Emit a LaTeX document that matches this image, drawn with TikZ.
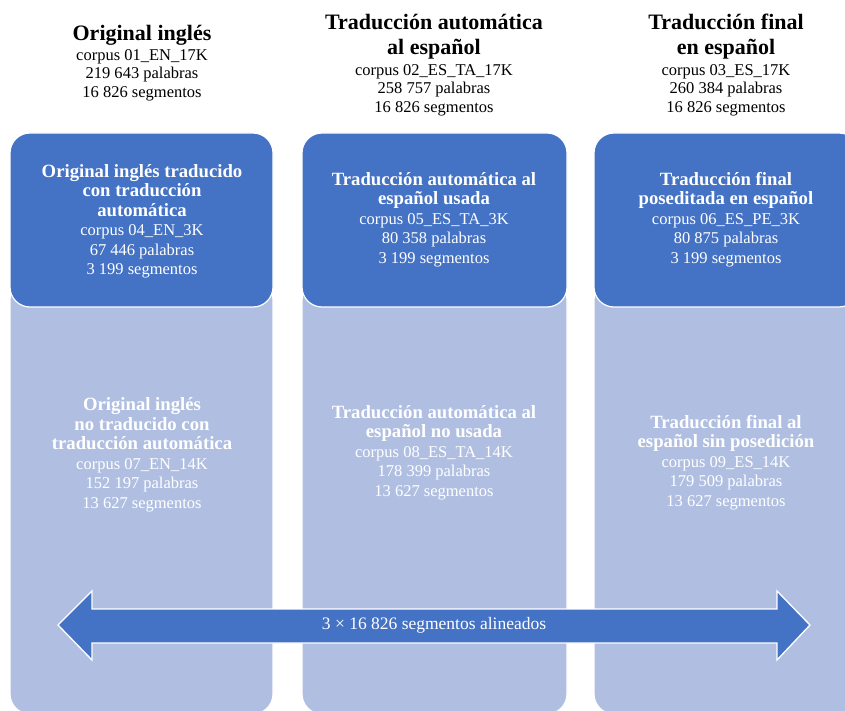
\documentclass[tikz,border=0pt]{standalone}
\usepackage{fontspec}
\setmainfont{Liberation Serif}
\definecolor{bluebox}{HTML}{4472C4}
\definecolor{lightbox}{HTML}{B0BFE1}
\begin{document}
\begin{tikzpicture}[x=1pt,y=-1pt,
  lightbg/.style={fill=lightbox,draw=white,line width=1.2pt,rounded corners=20pt},
  bluebg/.style={fill=bluebox,draw=white,line width=1.2pt,rounded corners=20pt},
  hdr/.style={align=center,font=\fontsize{16.5}{18.5}\selectfont,text=black,inner sep=0pt},
  boxtxt/.style={align=center,font=\fontsize{16.5}{19.5}\selectfont,text=white,inner sep=0pt},
]
\newcommand{\hdrtitle}[1]{{\fontsize{22}{24}\selectfont\bfseries #1}}
\newcommand{\boxtitle}[1]{{\fontsize{18.7}{20}\selectfont\bfseries #1}}
\useasboundingbox (0,0) rectangle (845,711);
\clip (0,0) rectangle (845,711);
% light columns
\draw[lightbg] (10,280) rectangle (273,714);
\draw[lightbg] (302,280) rectangle (567,714);
\draw[lightbg] (594,280) rectangle (859,714);
% blue top boxes
\draw[bluebg] (10,133) rectangle (273,307);
\draw[bluebg] (302,133) rectangle (567,307);
\draw[bluebg] (594,133) rectangle (859,307);
% headers
\node[hdr] (h1) at (142,63) {\hdrtitle{Original inglés}\\[1pt]corpus 01\_EN\_17K\\219 643 palabras\\16 826 segmentos};
\node[hdr] (h2) at (434,65) {\hdrtitle{Traducción automática}\\[7pt]\hdrtitle{al español}\\[2pt]corpus 02\_ES\_TA\_17K\\258 757 palabras\\16 826 segmentos};
\node[hdr] (h3) at (726,65) {\hdrtitle{Traducción final}\\[7pt]\hdrtitle{en español}\\[2pt]corpus 03\_ES\_17K\\260 384 palabras\\16 826 segmentos};
% blue box texts
\node[boxtxt] (b1) at (142,221.5) {\boxtitle{Original inglés traducido}\\\boxtitle{con traducción}\\\boxtitle{automática}\\corpus 04\_EN\_3K\\67 446 palabras\\3 199 segmentos};
\node[boxtxt] (b2) at (434,219.5) {\boxtitle{Traducción automática al}\\\boxtitle{español usada}\\corpus 05\_ES\_TA\_3K\\80 358 palabras\\3 199 segmentos};
\node[boxtxt] (b3) at (726,219.5) {\boxtitle{Traducción final}\\\boxtitle{poseditada en español}\\corpus 06\_ES\_PE\_3K\\80 875 palabras\\3 199 segmentos};
% light box texts
\node[boxtxt] (l1) at (142,455) {\boxtitle{Original inglés}\\\boxtitle{no traducido con}\\\boxtitle{traducción automática}\\corpus 07\_EN\_14K\\152 197 palabras\\13 627 segmentos};
\node[boxtxt] (l2) at (434,452.5) {\boxtitle{Traducción automática al}\\\boxtitle{español no usada}\\corpus 08\_ES\_TA\_14K\\178 399 palabras\\13 627 segmentos};
\node[boxtxt] (l3) at (726,462.5) {\boxtitle{Traducción final al}\\\boxtitle{español sin posedición}\\corpus 09\_ES\_14K\\179 509 palabras\\13 627 segmentos};
% double arrow
\draw[fill=bluebox,draw=white,line width=1.3pt,line join=miter]
  (58,625) -- (92,591) -- (92,609) -- (777,609) -- (777,591) -- (810,625)
  -- (777,660) -- (777,643) -- (92,643) -- (92,660) -- cycle;
\node[boxtxt,font=\fontsize{17.5}{19}\selectfont] (arr) at (434,625) {3 × 16 826 segmentos alineados};
\end{tikzpicture}
\end{document}
